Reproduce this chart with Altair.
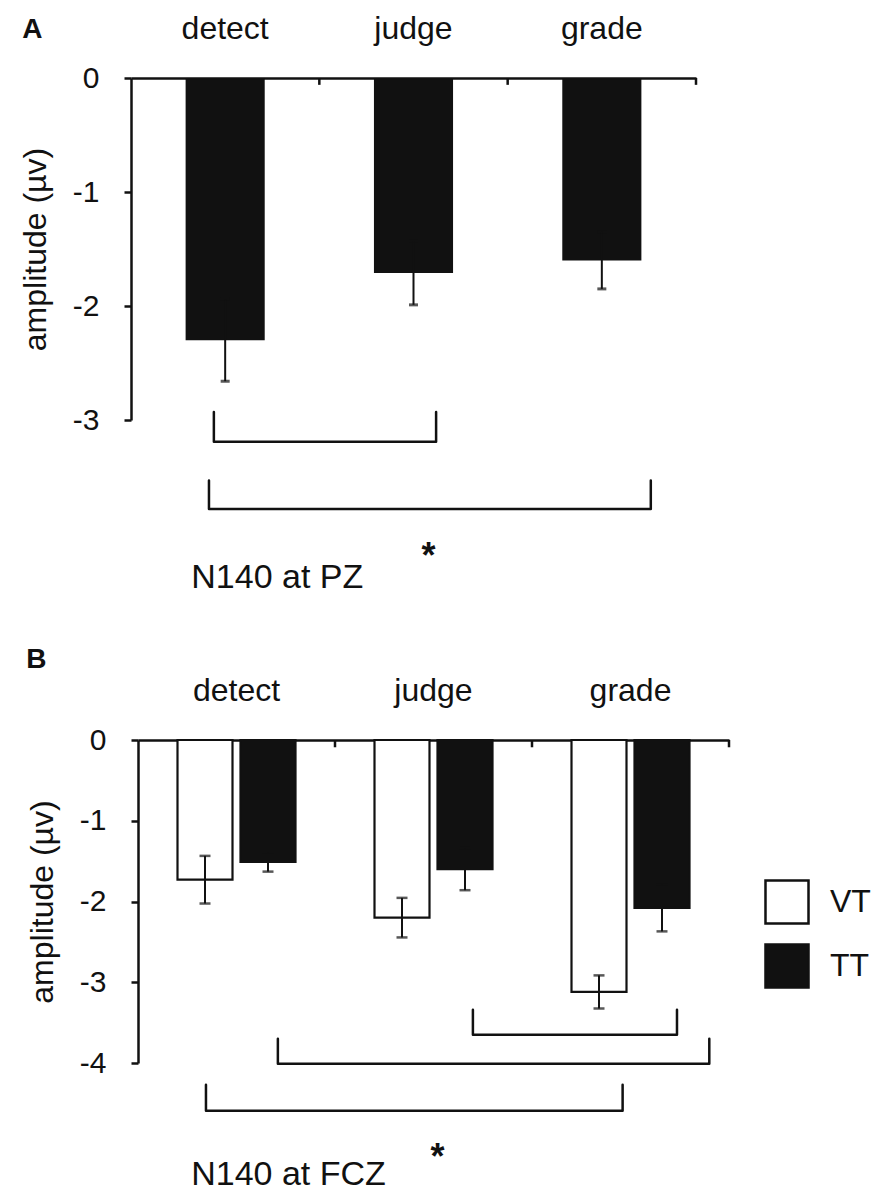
import altair as alt
import pandas as pd

# ---------------- data ----------------
categories = ["detect", "judge", "grade"]

# Panel A: N140 at PZ
a_mean = [-2.30, -1.71, -1.60]
a_err = [0.36, 0.28, 0.25]

# Panel B: N140 at FCZ
groups = ["VT", "TT"]
b_vt_mean = [-1.73, -2.20, -3.12]
b_vt_err = [0.295, 0.245, 0.205]
b_tt_mean = [-1.51, -1.60, -2.08]
b_tt_err = [0.12, 0.26, 0.29]

y_ticks_a = [0, -1, -2, -3]
y_ticks_b = [0, -1, -2, -3, -4]
boundary_ticks = [1, 2, 3]

# significance brackets (x in category units 0..3, y in µV)
a_br_x1 = [0.44, 0.414]
a_br_x2 = [1.62, 2.76]
a_br_top = [-2.93, -3.53]
a_br_bot = [-3.19, -3.78]

b_br_x1 = [1.70, 0.71, 0.345]
b_br_x2 = [2.736, 2.90, 2.46]
b_br_top = [-3.34, -3.70, -4.27]
b_br_bot = [-3.65, -4.01, -4.59]

a_note = {"text": "N140 at PZ", "x": 0.32, "y": -4.47}
a_star = {"text": "*", "x": 1.58, "y": -4.30}
b_note = {"text": "N140 at FCZ", "x": 0.27, "y": -5.51}
b_star = {"text": "*", "x": 1.52, "y": -5.31}

# ---------------- style ----------------
FONT = "Liberation Sans"
INK = "#111111"
LW = 2.5


def bracket_df(x1, x2, top, bot):
    rows = []
    for i in range(len(x1)):
        pts = [(x1[i], top[i]), (x1[i], bot[i]), (x2[i], bot[i]), (x2[i], top[i])]
        for k, (x, y) in enumerate(pts):
            rows.append({"id": i, "order": k, "x": x, "y": y})
    return pd.DataFrame(rows)


def y_axis(values, offset=0):
    return alt.Axis(
        values=values,
        labelExpr="datum.value == 0 ? '0' : '-' + abs(datum.value)",
        title="amplitude (µv)",
        titleFont=FONT, titleFontSize=32, titleFontWeight="normal", titleColor=INK,
        titlePadding=20,
        labelFont=FONT, labelFontSize=30, labelColor=INK, labelPadding=25,
        tickSize=7, tickWidth=LW, tickColor=INK,
        domainColor=INK, domainWidth=LW, grid=False, offset=offset,
    )


def x_axis():
    return alt.Axis(
        orient="top", title=None, labelAngle=0, ticks=False,
        labelFont=FONT, labelFontSize=32, labelColor=INK, labelPadding=33,
        domainColor=INK, domainWidth=LW,
    )


def annotations(xscale, yscale, brackets, note, star, tick_depth):
    ann_x = alt.X("x:Q", scale=xscale, axis=None)
    br = alt.Chart(brackets).mark_line(color=INK, strokeWidth=LW, strokeCap="round", strokeJoin="round").encode(
        x=ann_x, y=alt.Y("y:Q", scale=yscale), detail="id:N", order="order:Q"
    )
    tk = alt.Chart(pd.DataFrame({"x": boundary_ticks, "y0": 0.0, "y1": tick_depth})).mark_rule(
        color=INK, strokeWidth=LW
    ).encode(x=ann_x, y=alt.Y("y0:Q", scale=yscale), y2="y1:Q")
    nt = alt.Chart(pd.DataFrame([note])).mark_text(
        font=FONT, fontSize=34, color=INK, align="left", baseline="alphabetic"
    ).encode(x=ann_x, y=alt.Y("y:Q", scale=yscale), text="text:N")
    st = alt.Chart(pd.DataFrame([star])).mark_text(
        font=FONT, fontSize=36, fontWeight="bold", color=INK, align="center", baseline="alphabetic"
    ).encode(x=ann_x, y=alt.Y("y:Q", scale=yscale), text="text:N")
    return alt.layer(br, tk, nt, st)


# ---------------- panel A ----------------
dfa = pd.DataFrame({"category": categories, "mean": a_mean, "err": a_err})
dfa["lo"] = dfa["mean"] - dfa["err"]
dfa["hi"] = dfa["mean"] + dfa["err"]
capsa = pd.concat([
    dfa[["category"]].assign(v=dfa["lo"]),
    dfa[["category"]].assign(v=dfa["hi"]),
])

ys_a = alt.Scale(domain=[-3, 0], nice=False, zero=False)
xa = alt.X("category:N", sort=categories, scale=alt.Scale(paddingInner=0, paddingOuter=0), axis=x_axis())

bars_a = alt.Chart(dfa).mark_bar(color=INK, width=alt.RelativeBandSize(0.42)).encode(
    x=xa, y=alt.Y("mean:Q", scale=ys_a, axis=y_axis(y_ticks_a))
)
err_a = alt.Chart(dfa).mark_rule(color=INK, strokeWidth=2).encode(
    x=alt.X("category:N", sort=categories), y=alt.Y("lo:Q", scale=ys_a), y2="hi:Q"
)
cap_a = alt.Chart(capsa).mark_tick(color=INK, thickness=3, size=9).encode(
    x=alt.X("category:N", sort=categories), y=alt.Y("v:Q", scale=ys_a)
)
data_a = alt.layer(bars_a, err_a, cap_a)
ann_a = annotations(
    alt.Scale(domain=[0, 3], nice=False, zero=False), ys_a,
    bracket_df(a_br_x1, a_br_x2, a_br_top, a_br_bot), a_note, a_star, -0.06,
)
panel_a = alt.layer(data_a, ann_a).resolve_scale(x="independent").properties(
    width=565, height=342,
    title=alt.TitleParams("A", anchor="start", frame="bounds", font=FONT, fontSize=28,
                          fontWeight="bold", color=INK, dy=36, dx=3),
)

# ---------------- panel B ----------------
dfb = pd.DataFrame({
    "category": categories * 2,
    "group": ["VT"] * 3 + ["TT"] * 3,
    "mean": b_vt_mean + b_tt_mean,
    "err": b_vt_err + b_tt_err,
})
dfb["lo"] = dfb["mean"] - dfb["err"]
dfb["hi"] = dfb["mean"] + dfb["err"]
capsb = pd.concat([
    dfb[["category", "group"]].assign(v=dfb["lo"]),
    dfb[["category", "group"]].assign(v=dfb["hi"]),
])

ys_b = alt.Scale(domain=[-4, 0], nice=False, zero=False)
RANGE_B = [7, 598]
xb = alt.X("category:N", sort=categories,
           scale=alt.Scale(paddingInner=0, paddingOuter=0, range=RANGE_B), axis=x_axis())
xoff = alt.XOffset("group:N", sort=groups, scale=alt.Scale(paddingInner=0.127, paddingOuter=0.627))

bars_b = alt.Chart(dfb).mark_bar(stroke=INK, strokeWidth=2.2).encode(
    x=xb, xOffset=xoff,
    y=alt.Y("mean:Q", scale=ys_b, axis=y_axis(y_ticks_b, offset=-7)),
    fill=alt.Fill("group:N", sort=groups,
                  scale=alt.Scale(domain=groups, range=["white", INK]),
                  legend=alt.Legend(
                      title=None, orient="none", legendX=633, legendY=139,
                      symbolType="square", symbolSize=1850, symbolStrokeColor=INK,
                      symbolStrokeWidth=2.5, symbolOpacity=1,
                      labelFont=FONT, labelFontSize=32, labelColor=INK,
                      labelOffset=20, rowPadding=10,
                  )),
)
err_b = alt.Chart(dfb).mark_rule(color=INK, strokeWidth=2).encode(
    x=alt.X("category:N", sort=categories), xOffset=xoff,
    y=alt.Y("lo:Q", scale=ys_b), y2="hi:Q",
)
cap_b = alt.Chart(capsb).mark_tick(color=INK, thickness=2.5, size=11).encode(
    x=alt.X("category:N", sort=categories), xOffset=xoff,
    y=alt.Y("v:Q", scale=ys_b),
)
data_b = alt.layer(bars_b, err_b, cap_b)
ann_b = annotations(
    alt.Scale(domain=[0, 3], nice=False, zero=False, range=RANGE_B), ys_b,
    bracket_df(b_br_x1, b_br_x2, b_br_top, b_br_bot), b_note, b_star, -0.09,
)
panel_b = alt.layer(data_b, ann_b).resolve_scale(x="independent").properties(
    width=598, height=323,
    title=alt.TitleParams("B", anchor="start", frame="bounds", font=FONT, fontSize=28,
                          fontWeight="bold", color=INK, offset=0),
)

chart = alt.vconcat(panel_a, panel_b, spacing=51).resolve_legend(fill="independent").configure_view(
    stroke=None
).properties(
    padding={"left": 11, "top": 4, "right": 5, "bottom": 5},
    background="white",
)

chart.save("out.html", embed_options={"renderer": "svg", "actions": False})
